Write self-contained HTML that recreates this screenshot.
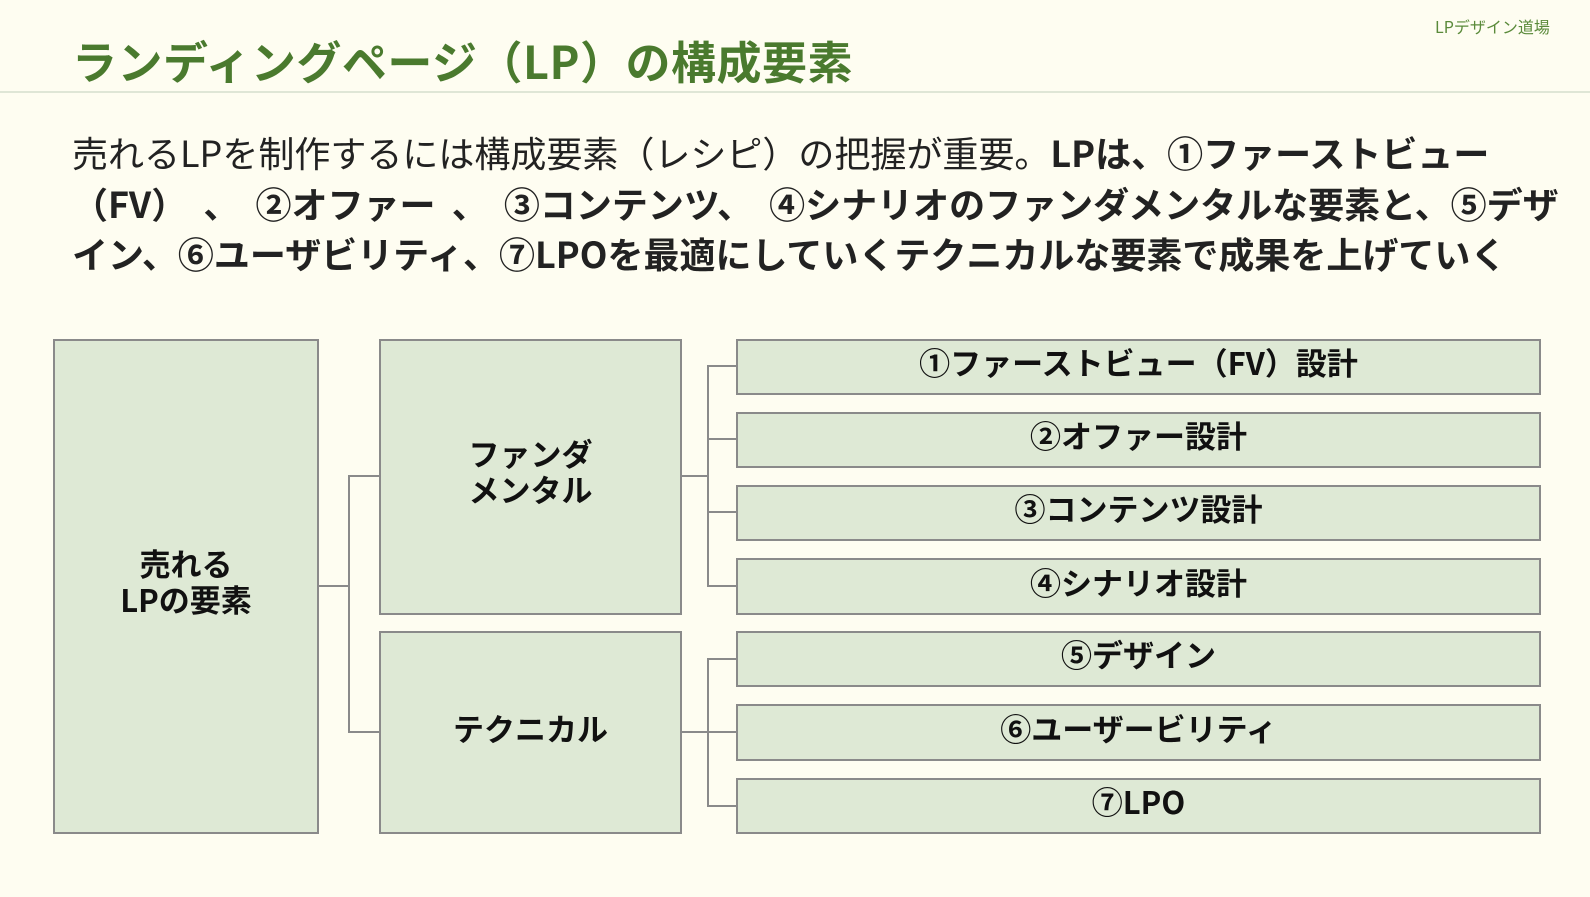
<!DOCTYPE html>
<html><head><meta charset="utf-8"><style>
body{margin:0;width:1590px;height:897px;background:#fefdf1;position:relative;overflow:hidden;font-family:"Noto Sans CJK JP","Liberation Sans",sans-serif;}
.t{position:absolute;white-space:nowrap}
.b{position:absolute;background:#dee9d5;border:2px solid #8a8a8a;box-sizing:border-box;display:flex;align-items:center;justify-content:center;text-align:center;font-weight:bold;font-size:31px;line-height:36px;color:#111}
.l{position:absolute;background:#8a8a8a}
</style></head><body>
<div class="t" style="left:1435px;top:14px;font-size:16px;color:#5a8a3a">LPデザイン道場</div>
<div class="t" style="left:72px;top:32px;font-size:45px;line-height:56px;font-weight:bold;color:#4a7a2e;letter-spacing:0.5px">ランディングページ（LP）の構成要素</div>
<div class="l" style="left:0;top:91px;width:1590px;height:2px;background:#dfe6d6"></div>
<div class="t" style="left:72px;top:127px;font-size:36px;line-height:50.5px;color:#222">売れるLPを制作するには構成要素（レシピ）の把握が重要。<b>LPは、①ファーストビュー</b><br><b style="word-spacing:8px">（FV） 、 ②オファー 、 ③コンテンツ、 ④シナリオのファンダメンタルな要素と、⑤デザ</b><br><b>イン、⑥ユーザビリティ、⑦LPOを最適にしていくテクニカルな要素で成果を上げていく</b></div>

<div class="b" style="left:53px;top:339px;width:266px;height:495px;padding-bottom:12px">売れる<br>LPの要素</div>
<div class="b" style="left:379px;top:339px;width:303px;height:276px;padding-bottom:12px">ファンダ<br>メンタル</div>
<div class="b" style="left:379px;top:631px;width:303px;height:203px;padding-bottom:10px">テクニカル</div>

<div class="b" style="left:736px;top:339px;width:805px;height:56px;padding-bottom:10px">①ファーストビュー（FV）設計</div>
<div class="b" style="left:736px;top:412px;width:805px;height:56px;padding-bottom:10px">②オファー設計</div>
<div class="b" style="left:736px;top:485px;width:805px;height:56px;padding-bottom:10px">③コンテンツ設計</div>
<div class="b" style="left:736px;top:558px;width:805px;height:57px;padding-bottom:10px">④シナリオ設計</div>
<div class="b" style="left:736px;top:631px;width:805px;height:56px;padding-bottom:10px">⑤デザイン</div>
<div class="b" style="left:736px;top:704px;width:805px;height:57px;padding-bottom:10px">⑥ユーザービリティ</div>
<div class="b" style="left:736px;top:778px;width:805px;height:56px;padding-bottom:10px">⑦LPO</div>

<div class="l" style="left:319px;top:585px;width:31px;height:2px"></div>
<div class="l" style="left:348px;top:475px;width:2px;height:258px"></div>
<div class="l" style="left:348px;top:475px;width:31px;height:2px"></div>
<div class="l" style="left:348px;top:731px;width:31px;height:2px"></div>

<div class="l" style="left:682px;top:475px;width:27px;height:2px"></div>
<div class="l" style="left:707px;top:365px;width:2px;height:222px"></div>
<div class="l" style="left:707px;top:365px;width:29px;height:2px"></div>
<div class="l" style="left:707px;top:438px;width:29px;height:2px"></div>
<div class="l" style="left:707px;top:511px;width:29px;height:2px"></div>
<div class="l" style="left:707px;top:585px;width:29px;height:2px"></div>

<div class="l" style="left:682px;top:731px;width:27px;height:2px"></div>
<div class="l" style="left:707px;top:658px;width:2px;height:149px"></div>
<div class="l" style="left:707px;top:658px;width:29px;height:2px"></div>
<div class="l" style="left:707px;top:731px;width:29px;height:2px"></div>
<div class="l" style="left:707px;top:805px;width:29px;height:2px"></div>
</body></html>
